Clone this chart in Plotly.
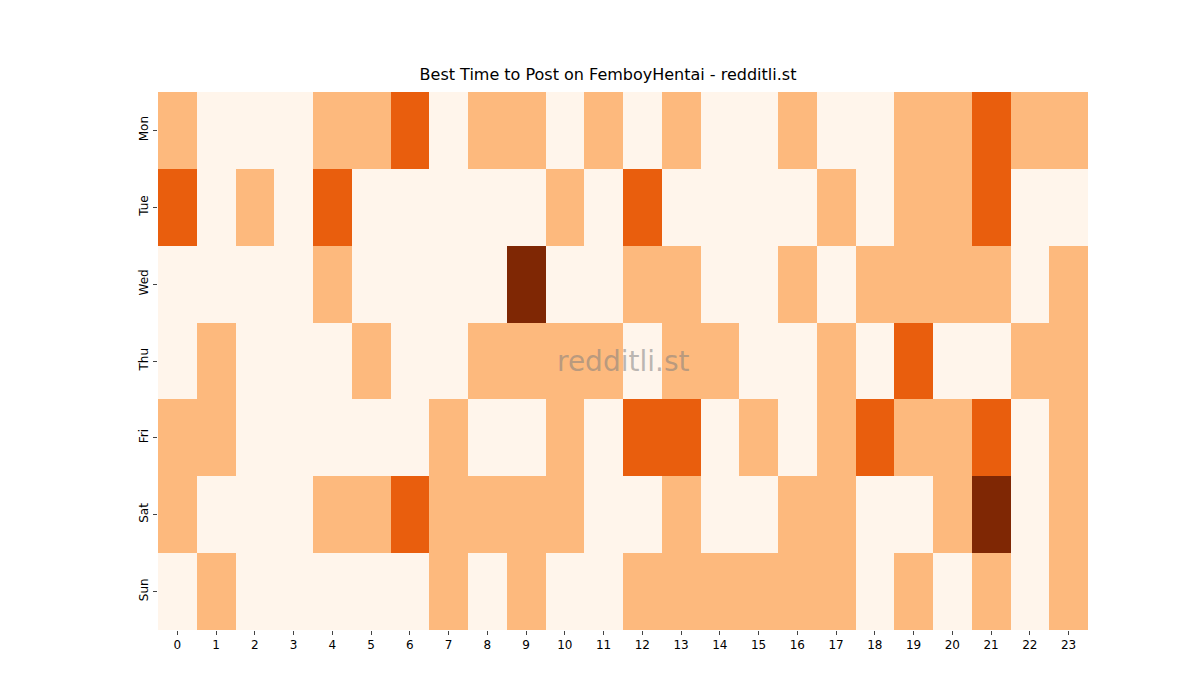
import plotly.graph_objects as go

days = ["Mon", "Tue", "Wed", "Thu", "Fri", "Sat", "Sun"]
hours = list(range(24))

mon = [1,0,0,0,1,1,2,0,1,1,0,1,0,1,0,0,1,0,0,1,1,2,1,1]
tue = [2,0,1,0,2,0,0,0,0,0,1,0,2,0,0,0,0,1,0,1,1,2,0,0]
wed = [0,0,0,0,1,0,0,0,0,3,0,0,1,1,0,0,1,0,1,1,1,1,0,1]
thu = [0,1,0,0,0,1,0,0,1,1,1,1,0,1,1,0,0,1,0,2,0,0,1,1]
fri = [1,1,0,0,0,0,0,1,0,0,1,0,2,2,0,1,0,1,2,1,1,2,0,1]
sat = [1,0,0,0,1,1,2,1,1,1,1,0,0,1,0,0,1,1,0,0,1,3,0,1]
sun = [0,1,0,0,0,0,0,1,0,1,0,0,1,1,1,1,1,1,0,1,0,1,0,1]

z = [mon, tue, wed, thu, fri, sat, sun]

colors = ["#fff5eb", "#fdb97d", "#e95e0d", "#7f2704"]
scale = []
for i, c in enumerate(colors):
    scale.append([i / 4, c])
    scale.append([(i + 1) / 4, c])

fig = go.Figure(go.Heatmap(z=z, x=hours, y=days, colorscale=scale, zmin=-0.5, zmax=3.5,
                           showscale=False, xgap=0, ygap=0))

fig.update_layout(
    width=1200, height=700,
    paper_bgcolor="white", plot_bgcolor="white",
    font=dict(family="DejaVu Sans", size=12, color="black"),
    title=dict(text="Best Time to Post on FemboyHentai - redditli.st", x=0.5, xanchor="center",
               y=0.905, yanchor="middle", font=dict(size=16)),
    margin=dict(l=150, r=120, t=84, b=78),
    annotations=[dict(text="redditli.st", x=0.5, y=0.5, xref="paper", yref="paper",
                      showarrow=False, font=dict(size=28, color="rgba(128,128,128,0.55)"))],
)
fig.update_xaxes(tickmode="array", tickvals=hours, ticks="outside", ticklen=4, showgrid=False,
                 zeroline=False)
fig.update_yaxes(autorange="reversed", ticks="outside", ticklen=4, tickangle=-90, showgrid=False,
                 zeroline=False)

fig.write_html("out.html")
